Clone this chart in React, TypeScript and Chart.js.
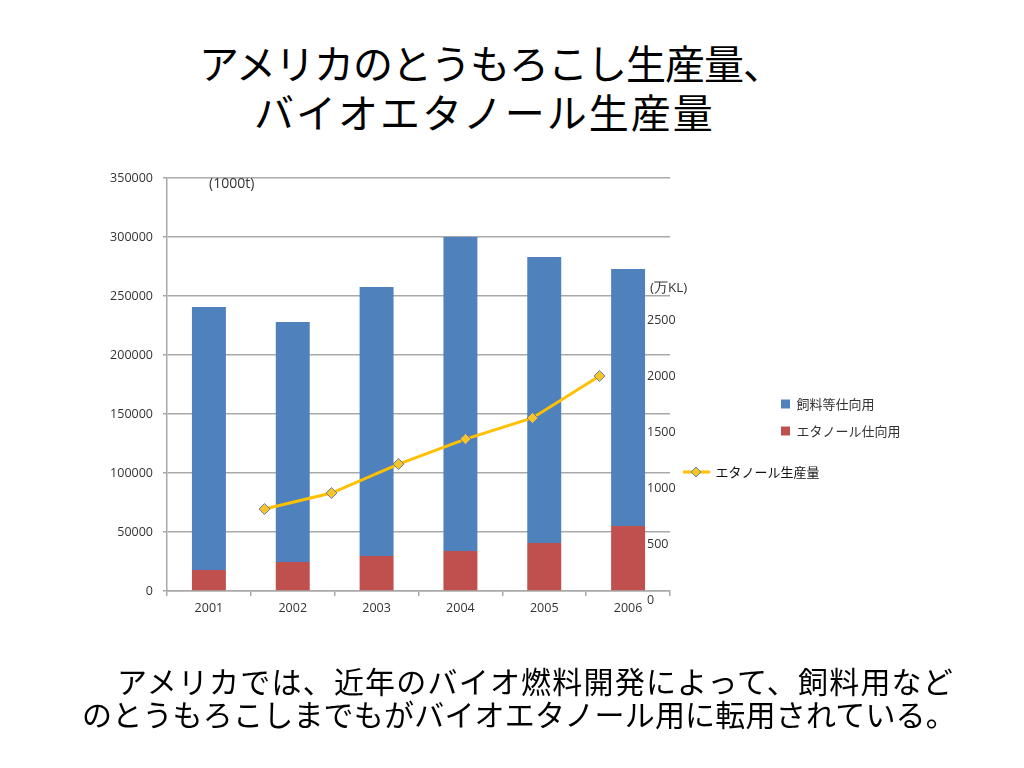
import React, { useEffect, useRef } from 'react';
import { Chart, registerables } from 'chart.js';

Chart.register(...registerables);

// ---- data ----
const years = ['2001', '2002', '2003', '2004', '2005', '2006'];
// corn used for ethanol (1000t)
const ethanolUse = [17800, 24600, 29700, 33900, 40700, 55100];
// corn for feed and other uses (1000t)
const feedUse = [222900, 203400, 227900, 266100, 242300, 217800];
// bio-ethanol production (万KL)
const ethanolProduction = [812, 955, 1214, 1437, 1625, 2000];

const leftAxisMax = 350000;
const leftAxisStep = 50000;
const rightAxisMax = 2500;
const rightAxisStep = 500;

const feedLabel = '飼料等仕向用';
const ethanolUseLabel = 'エタノール仕向用';
const productionLabel = 'エタノール生産量';

const titleLines = ['アメリカのとうもろこし生産量、', 'バイオエタノール生産量'];
const captionLines = [
  'アメリカでは、近年のバイオ燃料開発によって、飼料用など',
  'のとうもろこしまでもがバイオエタノール用に転用されている。',
];
const leftUnit = '(1000t)';
const rightUnit = '(万KL)';

const CJK = "'Noto Sans CJK JP', 'Noto Sans', sans-serif";
const LATIN = "'Open Sans', 'Liberation Sans', sans-serif";
const TEXT = '#333333';
const GRID = '#a9a9a9';

const plain = (v: any) => String(v);

function makeLegendIcon(): HTMLCanvasElement {
  const c = document.createElement('canvas');
  c.width = 28;
  c.height = 12;
  const ctx = c.getContext('2d')!;
  ctx.strokeStyle = '#FFC000';
  ctx.lineWidth = 3;
  ctx.beginPath();
  ctx.moveTo(0, 6);
  ctx.lineTo(28, 6);
  ctx.stroke();
  ctx.beginPath();
  ctx.moveTo(14, 1);
  ctx.lineTo(19, 6);
  ctx.lineTo(14, 11);
  ctx.lineTo(9, 6);
  ctx.closePath();
  ctx.fillStyle = '#F5C52A';
  ctx.fill();
  ctx.lineWidth = 1;
  ctx.strokeStyle = '#6A7FA8';
  ctx.stroke();
  return c;
}

export default function App() {
  const barRef = useRef<HTMLCanvasElement>(null);
  const lineRef = useRef<HTMLCanvasElement>(null);

  useEffect(() => {
    const barChart = new Chart(barRef.current!, {
      type: 'bar',
      data: {
        labels: years,
        datasets: [
          { label: ethanolUseLabel, data: ethanolUse, backgroundColor: '#C0504D' },
          { label: feedLabel, data: feedUse, backgroundColor: '#4F81BD' },
        ],
      },
      options: {
        responsive: false,
        animation: false,
        layout: { padding: { left: 0, top: 178, right: 113.5, bottom: 147 } },
        datasets: { bar: { barPercentage: 0.405, categoryPercentage: 1 } },
        scales: {
          x: {
            stacked: true,
            grid: {
              display: true,
              offset: true,
              drawOnChartArea: false,
              drawTicks: true,
              tickLength: 5,
              color: GRID,
              lineWidth: 1.5,
            },
            border: { display: true, color: GRID, width: 1.5 },
            ticks: { font: { family: LATIN, size: 12.5 }, color: TEXT, padding: 5, maxRotation: 0 },
            afterFit: (s: any) => { s.height = 30; },
          },
          y: {
            stacked: true,
            min: 0,
            max: leftAxisMax,
            ticks: { stepSize: leftAxisStep, font: { family: LATIN, size: 12.5 }, color: TEXT, padding: 10, callback: plain },
            grid: { color: GRID, lineWidth: 1.5, tickLength: 4 },
            border: { color: GRID, width: 1.5 },
            afterFit: (s: any) => { s.width = 167; },
          },
          spacer: {
            type: 'linear',
            position: 'right',
            display: true,
            ticks: { display: false },
            grid: { display: false, drawTicks: false },
            border: { display: false },
            afterFit: (s: any) => { s.width = 97; },
          },
        },
        plugins: {
          legend: {
            position: 'right',
            reverse: true,
            title: { display: true, text: ' ', font: { size: 10, lineHeight: 1 }, padding: { top: 0, bottom: 26 } },
            labels: {
              boxWidth: 9,
              boxHeight: 9,
              padding: 14,
              font: { family: CJK, size: 13 },
              color: TEXT,
            },
          },
          tooltip: { enabled: false },
        },
      },
    } as any);

    const icon = makeLegendIcon();
    const lineChart = new Chart(lineRef.current!, {
      type: 'line',
      data: {
        labels: years,
        datasets: [
          {
            label: productionLabel,
            data: ethanolProduction,
            yAxisID: 'y2',
            borderColor: '#FFC000',
            borderWidth: 3,
            pointStyle: 'rectRot',
            pointRadius: 5.5,
            pointBackgroundColor: '#F5C52A',
            pointBorderColor: '#6A7FA8',
            pointBorderWidth: 1,
            tension: 0,
            fill: false,
          },
        ],
      },
      options: {
        responsive: false,
        animation: false,
        layout: { padding: { left: 231, top: 320, right: 194.5, bottom: 168 } },
        scales: {
          x: { display: false, offset: true },
          y2: {
            position: 'right',
            min: 0,
            max: rightAxisMax,
            ticks: { stepSize: rightAxisStep, font: { family: LATIN, size: 12.5 }, color: TEXT, padding: 14, callback: plain },
            grid: { display: false, drawTicks: false, tickLength: 0 },
            border: { display: false },
            afterFit: (s: any) => { s.width = 50; },
          },
        },
        plugins: {
          legend: {
            position: 'right',
            title: { display: true, text: ' ', font: { size: 10, lineHeight: 1 }, padding: { top: 0, bottom: 14 } },
            labels: {
              usePointStyle: true,
              pointStyleWidth: 26,
              boxHeight: 10,
              padding: 0,
              font: { family: CJK, size: 13 },
              color: '#111111',
              generateLabels: (chart: any) =>
                Chart.defaults.plugins.legend.labels
                  .generateLabels(chart)
                  .map((l: any) => ({ ...l, pointStyle: icon })),
            },
          },
          tooltip: { enabled: false },
        },
      },
    } as any);

    return () => {
      barChart.destroy();
      lineChart.destroy();
    };
  }, []);

  return (
    <div style={{ position: 'absolute', left: 0, top: 0, width: 1024, height: 768, background: '#fff', overflow: 'hidden' }}>
      <div
        style={{
          position: 'absolute',
          left: 0,
          top: 38,
          width: 1024,
          fontFamily: CJK,
          fontSize: 40,
          lineHeight: '49px',
          color: '#000',
          whiteSpace: 'nowrap',
        }}
      >
        <div style={{ paddingLeft: 199, letterSpacing: '-1px' }}>{titleLines[0]}</div>
        <div style={{ paddingLeft: 254, letterSpacing: '2px' }}>{titleLines[1]}</div>
      </div>
      <canvas ref={barRef} width={1024} height={768} style={{ position: 'absolute', left: 0, top: 0 }} />
      <canvas ref={lineRef} width={1024} height={768} style={{ position: 'absolute', left: 0, top: 0, pointerEvents: 'none' }} />
      <div style={{ position: 'absolute', left: 209, top: 173, fontFamily: LATIN, fontSize: 14, color: TEXT }}>{leftUnit}</div>
      <div style={{ position: 'absolute', left: 650, top: 278, fontFamily: LATIN, fontSize: 13.5, color: TEXT }}>{rightUnit}</div>
      <div
        style={{
          position: 'absolute',
          left: 82,
          top: 664,
          width: 940,
          fontFamily: CJK,
          fontSize: 30,
          lineHeight: '33px',
          color: '#000',
          whiteSpace: 'nowrap',
        }}
      >
        <div style={{ paddingLeft: 35, letterSpacing: '1.2px' }}>{captionLines[0]}</div>
        <div style={{ letterSpacing: '0.2px' }}>{captionLines[1]}</div>
      </div>
    </div>
  );
}
